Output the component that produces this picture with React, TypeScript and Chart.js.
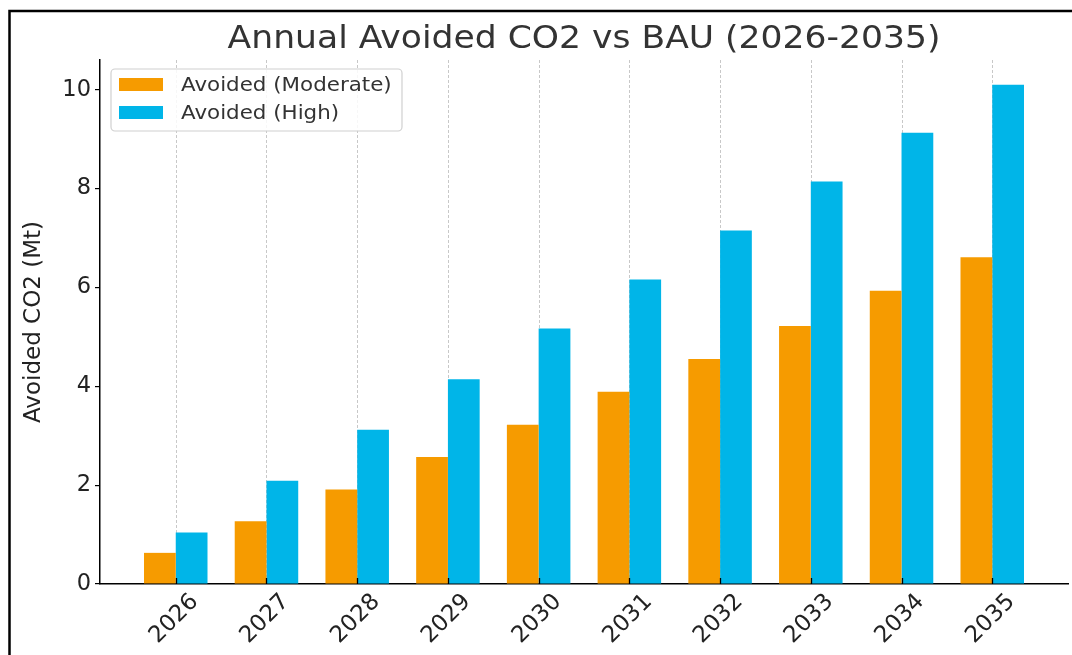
import React, { useEffect, useRef } from "react";
import { Chart, registerables } from "chart.js";

Chart.register(...registerables);

const years = ["2026", "2027", "2028", "2029", "2030", "2031", "2032", "2033", "2034", "2035"];
const moderate = [0.63, 1.27, 1.91, 2.57, 3.22, 3.89, 4.55, 5.22, 5.93, 6.61];
const high = [1.04, 2.09, 3.12, 4.14, 5.17, 6.16, 7.15, 8.14, 9.13, 10.1];
const yTicks = [0, 2, 4, 6, 8, 10];
const seriesLabels = ["Avoided (Moderate)", "Avoided (High)"];
const seriesColors = ["rgb(246,155,0)", "rgb(0,181,232)"];
const titleText = "Annual Avoided CO2 vs BAU (2026-2035)";
const yTitle = "Avoided CO2 (Mt)";

const FONT = "'DejaVu Sans', 'Liberation Sans', sans-serif";

const decorPlugin = {
  id: "decor",
  beforeDatasetsDraw(chart: any) {
    const ctx = chart.ctx;
    const x = chart.scales.x;
    const area = chart.chartArea;
    ctx.save();
    ctx.strokeStyle = "#c8c8c8";
    ctx.lineWidth = 1;
    ctx.setLineDash([3, 2]);
    years.forEach((_, i) => {
      const px = Math.round(x.getPixelForValue(i)) + 0.5;
      ctx.beginPath();
      ctx.moveTo(px, area.top);
      ctx.lineTo(px, area.bottom);
      ctx.stroke();
    });
    ctx.restore();
  },
  afterDraw(chart: any) {
    const ctx = chart.ctx;
    const x = chart.scales.x;
    const area = chart.chartArea;
    ctx.save();
    // inward x tick marks
    ctx.strokeStyle = "#000";
    ctx.lineWidth = 1.3;
    years.forEach((_, i) => {
      const px = Math.round(x.getPixelForValue(i)) + 0.5;
      ctx.beginPath();
      ctx.moveTo(px, area.bottom);
      ctx.lineTo(px, area.bottom - 6);
      ctx.stroke();
    });
    // x labels rotated
    ctx.fillStyle = "#222";
    ctx.font = `23px ${FONT}`;
    ctx.textAlign = "center";
    ctx.textBaseline = "middle";
    years.forEach((lab, i) => {
      const px = x.getPixelForValue(i);
      ctx.save();
      ctx.translate(px - 1.5, area.bottom + 35);
      ctx.rotate(-Math.PI / 4);
      ctx.fillText(lab, 0, 0);
      ctx.restore();
    });
    // y title
    ctx.save();
    ctx.font = `23px ${FONT}`;
    ctx.fillStyle = "#222";
    ctx.translate(34, (area.top + area.bottom) / 2);
    ctx.rotate(-Math.PI / 2);
    ctx.textAlign = "center";
    ctx.textBaseline = "middle";
    ctx.fillText(yTitle, 0, 0);
    ctx.restore();
    // title
    ctx.save();
    ctx.font = `32px ${FONT}`;
    ctx.fillStyle = "#333";
    ctx.textAlign = "center";
    ctx.textBaseline = "alphabetic";
    ctx.translate((area.left + area.right) / 2, 48);
    ctx.scale(1.08, 1);
    ctx.fillText(titleText, 0, 0);
    ctx.restore();
    // legend
    const lx = 111, ly = 69, lw = 291, lh = 62, r = 4;
    ctx.beginPath();
    ctx.moveTo(lx + r, ly);
    ctx.arcTo(lx + lw, ly, lx + lw, ly + lh, r);
    ctx.arcTo(lx + lw, ly + lh, lx, ly + lh, r);
    ctx.arcTo(lx, ly + lh, lx, ly, r);
    ctx.arcTo(lx, ly, lx + lw, ly, r);
    ctx.closePath();
    ctx.fillStyle = "rgba(255,255,255,0.85)";
    ctx.fill();
    ctx.strokeStyle = "#d0d0d0";
    ctx.lineWidth = 1.2;
    ctx.stroke();
    ctx.font = `20px ${FONT}`;
    ctx.textAlign = "left";
    ctx.textBaseline = "middle";
    seriesLabels.forEach((lab, i) => {
      const cy = 84.5 + i * 28;
      ctx.fillStyle = seriesColors[i];
      ctx.fillRect(119, cy - 6.5, 44, 13);
      ctx.save();
      ctx.fillStyle = "#333";
      ctx.translate(181, cy + 1);
      ctx.scale(1.07, 1);
      ctx.fillText(lab, 0, 0);
      ctx.restore();
    });
    // frame
    ctx.strokeStyle = "#000";
    ctx.lineWidth = 2.5;
    ctx.beginPath();
    ctx.moveTo(9.5, 655);
    ctx.lineTo(9.5, 11);
    ctx.lineTo(1072, 11);
    ctx.stroke();
    ctx.restore();
  },
};

export default function App() {
  const ref = useRef<HTMLCanvasElement | null>(null);
  useEffect(() => {
    document.body.style.margin = "0";
    const canvas = ref.current;
    if (!canvas) return;
    const chart = new Chart(canvas, {
      type: "bar",
      data: {
        datasets: [
          {
            label: seriesLabels[0],
            data: moderate.map((v, i) => ({ x: i, y: v })),
            backgroundColor: seriesColors[0],
            barPercentage: 1,
            categoryPercentage: 0.7,
          },
          {
            label: seriesLabels[1],
            data: high.map((v, i) => ({ x: i, y: v })),
            backgroundColor: seriesColors[1],
            barPercentage: 1,
            categoryPercentage: 0.7,
          },
        ],
      },
      options: {
        animation: false,
        responsive: false,
        devicePixelRatio: 1,
        layout: { padding: { top: 60, right: 4, left: 0, bottom: 0 } },
        plugins: {
          legend: { display: false },
          title: { display: false },
          tooltip: { enabled: false },
        },
        scales: {
          x: {
            type: "linear",
            min: -0.835,
            max: 9.835,
            offset: false,
            grid: { display: false, offset: false },
            border: { display: true, color: "#000", width: 1.5 },
            ticks: { display: false },
            afterBuildTicks: (s: any) => {
              s.ticks = years.map((_, i) => ({ value: i }));
            },
            afterFit: (s: any) => {
              s.height = 71;
            },
          },
          y: {
            min: 0,
            max: 10.6,
            grid: {
              drawOnChartArea: false,
              drawTicks: true,
              tickLength: 5,
              color: "#000",
              lineWidth: 1.2,
            },
            border: { display: true, color: "#000", width: 1.5 },
            ticks: {
              padding: 4,
              color: "#222",
              font: { family: FONT, size: 22.5 },
              includeBounds: false,
            },
            afterBuildTicks: (s: any) => {
              s.ticks = yTicks.map((v) => ({ value: v }));
            },
            afterFit: (s: any) => {
              s.width = 100;
            },
          },
        },
      },
      plugins: [decorPlugin],
    } as any);
    return () => chart.destroy();
  }, []);
  return (
    <div style={{ width: 1072, height: 655, position: "relative", background: "#fff" }}>
      <canvas ref={ref} width={1072} height={655} style={{ display: "block" }} />
    </div>
  );
}
